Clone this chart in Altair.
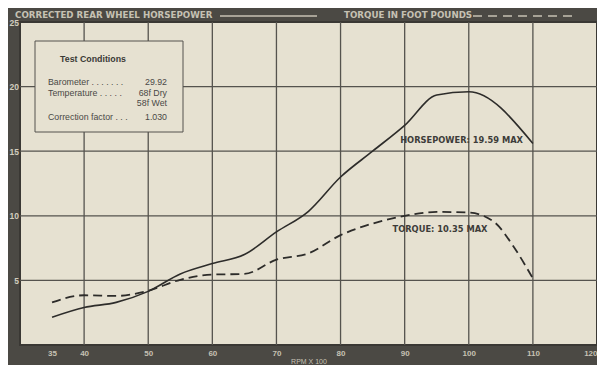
import altair as alt
import pandas as pd

# ---------------- data ----------------
hp_rpm = [35, 40, 45, 50, 55, 60, 65, 70, 75, 80, 85, 90, 95, 100, 110]
horsepower = [2.15, 2.9, 3.3, 4.15, 5.5, 6.3, 7.0, 8.75, 10.35, 13.0, 15.0, 17.0, 19.35, 19.6, 15.6]

tq_rpm = [35, 40, 45, 50, 55, 60, 65, 70, 75, 80, 85, 90, 95, 100, 104, 107, 110]
torque = [3.3, 3.85, 3.8, 4.2, 5.05, 5.45, 5.5, 6.6, 7.1, 8.5, 9.4, 10.0, 10.3, 10.25, 9.5, 7.6, 5.15]

x_ticks = [35, 40, 50, 60, 70, 80, 90, 100, 110, 120]
x_grid = [40, 50, 60, 70, 80, 90, 100, 110]
y_ticks = [5, 10, 15, 20, 25]
y_grid = [5, 10, 15, 20]

annot_labels = ["HORSEPOWER: 19.59 MAX", "TORQUE: 10.35 MAX"]
annot_x = [89.3, 88.1]
annot_y = [15.76, 8.87]

header_hp = "CORRECTED REAR WHEEL HORSEPOWER"
header_tq = "TORQUE IN FOOT POUNDS"
box_title = "Test Conditions"
cond_labels = ["Barometer  . . . . . . .", "Temperature . . . . .", "", "Correction factor  . . ."]
cond_values = ["29.92", "68f Dry", "58f Wet", "1.030"]

# ---------------- style ----------------
DARK = "#4b4944"
BEIGE = "#e6e1d1"
LIGHT = "#c6c1b3"
INK = "#2d2c2a"
GRID = "#55534e"
FONT = "Liberation Sans"
BFONT = "DejaVu Sans"

W, H = 577, 323

xscale = alt.Scale(domain=[30, 120], nice=False, zero=False)
yscale = alt.Scale(domain=[0, 25], nice=False)
xaxis = alt.Axis(values=x_ticks, grid=False, domain=False, ticks=False,
                 labelColor=LIGHT, labelFontSize=8, labelFont=FONT, labelFontWeight="bold",
                 labelPadding=4, labelFlush=True,
                 title="RPM X 100", titleColor=LIGHT, titleFontSize=7, titleFont=FONT,
                 titleFontWeight="normal", titlePadding=0)
yaxis = alt.Axis(values=y_ticks, grid=False, domain=False, ticks=False,
                 labelColor="#d2cdbf", labelFontSize=8.5, labelFont=FONT, labelFontWeight="bold",
                 labelPadding=1.5, labelFlush=False, title=None)

def X(f):
    return alt.X(f, type="quantitative", scale=xscale, axis=xaxis)

def Y(f):
    return alt.Y(f, type="quantitative", scale=yscale, axis=yaxis)

hp_df = pd.DataFrame({"rpm": hp_rpm, "val": horsepower})
tq_df = pd.DataFrame({"rpm": tq_rpm, "val": torque})

vgrid = alt.Chart(pd.DataFrame({"g": x_grid})).mark_rule(color=GRID, strokeWidth=1.3).encode(x=X("g"))
hgrid = alt.Chart(pd.DataFrame({"g": y_grid})).mark_rule(color=GRID, strokeWidth=1.3).encode(y=Y("g"))

box = alt.Chart(pd.DataFrame({"a": [0]})).mark_rect(fill=BEIGE, stroke="#55534e", strokeWidth=1).encode(
    x=alt.value(15), x2=alt.value(163), y=alt.value(19), y2=alt.value(110))

hp_line = alt.Chart(hp_df).mark_line(color=INK, strokeWidth=1.6, interpolate="monotone").encode(
    x=X("rpm"), y=Y("val"))
tq_line = alt.Chart(tq_df).mark_line(color=INK, strokeWidth=1.8, strokeDash=[9, 5],
                                     interpolate="monotone").encode(x=X("rpm"), y=Y("val"))

annot = alt.Chart(pd.DataFrame({"x": annot_x, "y": annot_y, "t": annot_labels})).mark_text(
    align="left", baseline="middle", font=BFONT, fontWeight="bold", fontSize=8.3, color="#3d3c39"
).encode(x=X("x"), y=Y("y"), text="t:N")

def label(text, x, y, **kw):
    return alt.Chart(pd.DataFrame({"t": [text]})).mark_text(**kw).encode(
        x=alt.value(x), y=alt.value(y), text="t:N")

layers = [vgrid, hgrid, box, hp_line, tq_line, annot]

# header
layers.append(label(header_hp, -5, -4.5, align="left", baseline="alphabetic", font=BFONT,
                    fontWeight="bold", fontSize=8.7, color=LIGHT))
layers.append(label(header_tq, 324, -4.5, align="left", baseline="alphabetic", font=BFONT,
                    fontWeight="bold", fontSize=8.7, color=LIGHT))
layers.append(alt.Chart(pd.DataFrame({"a": [0]})).mark_rule(color=LIGHT, strokeWidth=1.6).encode(
    x=alt.value(200), x2=alt.value(297), y=alt.value(-6)))
layers.append(alt.Chart(pd.DataFrame({"a": [0]})).mark_rule(color=LIGHT, strokeWidth=1.6,
                                                             strokeDash=[9, 6]).encode(
    x=alt.value(453), x2=alt.value(557), y=alt.value(-6)))

# test conditions box
layers.append(label(box_title, 73, 37, align="center", baseline="middle", font=FONT,
                    fontWeight="bold", fontSize=8.8, color="#3a3936"))
row_y = [60, 70.7, 81, 94.7]
for lab, val, yy in zip(cond_labels, cond_values, row_y):
    if lab:
        layers.append(label(lab, 28, yy, align="left", baseline="middle", font=FONT,
                            fontSize=8.8, color="#4a4946"))
    layers.append(label(val, 147, yy, align="right", baseline="middle", font=FONT,
                        fontSize=8.8, color="#4a4946"))

chart = alt.layer(*layers).properties(
    width=W, height=H,
    padding={"left": 12, "top": 14, "right": 0, "bottom": 20},
    autosize=alt.AutoSizeParams(type="none"),
    background=DARK,
).configure_view(fill=BEIGE, stroke="#3a3834", strokeWidth=2)

chart.save("out.html", embed_options={"renderer": "svg", "actions": False})
